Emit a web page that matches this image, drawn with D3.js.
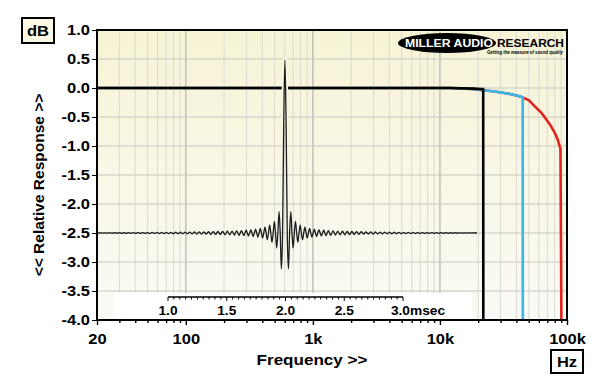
<!DOCTYPE html>
<html>
<head>
<meta charset="utf-8">
<script src="https://cdn.jsdelivr.net/npm/d3@7"></script>
<style>
  body { margin: 0; background: #fff; }
  svg { display: block; font-family: "Liberation Sans", Arial, sans-serif; font-weight: bold; }
</style>
</head>
<body>
<div id="chart"></div>
<script>
// ---- DATA ----

// y axis, dB
var dbTicks = [1.0, 0.5, 0.0, -0.5, -1.0, -1.5, -2.0, -2.5, -3.0, -3.5, -4.0];

// x axis, Hz
var gridFreqs = [20, 30, 40, 50, 60, 70, 80, 90,
                 100, 200, 300, 400, 500, 600, 700, 800, 900,
                 1000, 2000, 3000, 4000, 5000, 6000, 7000, 8000, 9000,
                 10000, 20000, 30000, 40000, 50000, 60000, 70000, 80000, 90000, 100000];
var majorFreqs = [20, 100, 1000, 10000, 100000];
var majorLabels = ["20", "100", "1k", "10k", "100k"];

// response curves [Hz, dB]
var blackCurve = [[20, 0], [12000, 0], [18000, -0.01], [21500, -0.02], [21900, -0.02], [21950, -4.3]];
var cyanCurve = [[20, 0], [12000, 0], [18000, -0.015], [22000, -0.04], [27000, -0.06], [32000, -0.085],
                 [38000, -0.115], [43000, -0.145], [44800, -0.16], [44900, -4.3]];
var redCurve = [[20, 0], [12000, 0], [18000, -0.015], [22000, -0.04], [27000, -0.06], [32000, -0.085],
                [38000, -0.115], [43000, -0.145], [45000, -0.165], [50000, -0.21], [56000, -0.32],
                [63000, -0.43], [69200, -0.55], [75000, -0.66], [80400, -0.78], [84500, -0.89],
                [87000, -0.98], [88800, -1.05], [90500, -4.3]];

// impulse inset, time in msec
var timeTicks = [1.0, 1.5, 2.0, 2.5, 3.0];
var timeLabels = ["1.0", "1.5", "2.0", "2.5", "3.0"];
var timeUnit = "msec";
var impulseBase = -2.5;          // dB position of the impulse baseline
var impulseCentre = 1.995;       // msec
var impulseLobe = 0.02;          // msec between ringing lobes
var impulseSpan = [0.40, 3.63];  // msec, where the trace starts and ends
var impulseMain = [2.98, 1.9];   // peak height and shoulder (half a lobe out)
// ringing lobes going outward from the peak (the trace is symmetric)
var ringLobes = [-0.62, 0.37, -0.26, 0.20, -0.16, 0.135, -0.115, 0.10, -0.088, 0.079,
                 -0.071, 0.065, -0.060, 0.055, -0.051, 0.048, -0.045, 0.042, -0.040, 0.038,
                 -0.036, 0.034, -0.032, 0.031, -0.030, 0.028, -0.027, 0.026, -0.025, 0.024,
                 -0.023, 0.022, -0.021, 0.021, -0.020, 0.019, -0.018, 0.018, -0.017, 0.016,
                 -0.016, 0.015, -0.015, 0.014, -0.014, 0.013, -0.013, 0.012, -0.012, 0.011,
                 -0.011, 0.010, -0.010, 0.010, -0.009, 0.009, -0.009, 0.008, -0.008, 0.008,
                 -0.007, 0.007, -0.007, 0.006, -0.006, 0.006, -0.005, 0.005, -0.005, 0.005,
                 -0.004, 0.004, -0.004, 0.003, -0.003, 0.003, -0.003, 0.002];

// ---- LAYOUT ----
var width = 600, height = 389,
    plot = {left: 97, top: 30, right: 567, bottom: 320},
    stretch = 1.1;

var svg = d3.select("#chart").append("svg")
            .attr("width", width)
            .attr("height", height);

var x = d3.scaleLog().domain([20, 100000]).range([plot.left, plot.right]);
var y = d3.scaleLinear().domain([-4, 1]).range([plot.bottom, plot.top]);
var tx = d3.scaleLinear().domain([1, 3]).range([168, 403]);

var defs = svg.append("defs");
var grad = defs.append("linearGradient").attr("id", "bg")
    .attr("x1", 0).attr("y1", 0).attr("x2", 0).attr("y2", 1);
grad.append("stop").attr("offset", "0%").attr("stop-color", "#f7f3d5");
grad.append("stop").attr("offset", "100%").attr("stop-color", "#fafaf6");
defs.append("clipPath").attr("id", "plotClip").append("rect")
    .attr("x", plot.left).attr("y", plot.top)
    .attr("width", plot.right - plot.left).attr("height", plot.bottom - plot.top);

// plot background
svg.append("rect")
    .attr("x", plot.left).attr("y", plot.top)
    .attr("width", plot.right - plot.left).attr("height", plot.bottom - plot.top)
    .attr("fill", "url(#bg)");

// grid
var grid = svg.append("g");
grid.selectAll("line.v")
    .data(gridFreqs.filter(function(f){ return f > 20 && f < 100000; }))
    .enter().append("line")
        .attr("x1", function(f){ return x(f); })
        .attr("x2", function(f){ return x(f); })
        .attr("y1", plot.top).attr("y2", plot.bottom)
        .attr("stroke", function(f){ return majorFreqs.indexOf(f) >= 0 ? "#bdbcb6" : "#dddbd0"; })
        .attr("stroke-width", function(f){ return majorFreqs.indexOf(f) >= 0 ? 1.4 : 1; });
grid.selectAll("line.h")
    .data(dbTicks.filter(function(d){ return d < 1 && d > -4; }))
    .enter().append("line")
        .attr("x1", plot.left).attr("x2", plot.right)
        .attr("y1", function(d){ return y(d); })
        .attr("y2", function(d){ return y(d); })
        .attr("stroke", "#c9c7bf")
        .attr("stroke-width", 1);

// white panel behind the time ruler
svg.append("rect")
    .attr("x", 115).attr("y", 293).attr("width", 357).attr("height", plot.bottom - 293)
    .attr("fill", "#ffffff");

// response curves
var line = d3.line()
    .x(function(d){ return x(d[0]); })
    .y(function(d){ return y(d[1]); });

var curves = svg.append("g").attr("clip-path", "url(#plotClip)");
[[redCurve, "#e3241b"], [cyanCurve, "#35b8ea"], [blackCurve, "#000000"]].forEach(function(c){
    curves.append("path")
        .datum(c[0])
        .attr("d", line)
        .attr("fill", "none")
        .attr("stroke", c[1])
        .attr("stroke-width", 2.6)
        .attr("stroke-linejoin", "round");
});

// impulse trace
var imp = [[impulseSpan[0], 0]];
for (var k = ringLobes.length; k >= 1; k--) {
    imp.push([impulseCentre - (k + 0.5) * impulseLobe, ringLobes[k - 1]]);
    imp.push([impulseCentre - k * impulseLobe, 0]);
}
imp.push([impulseCentre - impulseLobe / 2, impulseMain[1]]);
imp.push([impulseCentre, impulseMain[0]]);
imp.push([impulseCentre + impulseLobe / 2, impulseMain[1]]);
for (var k = 1; k <= ringLobes.length; k++) {
    imp.push([impulseCentre + k * impulseLobe, 0]);
    imp.push([impulseCentre + (k + 0.5) * impulseLobe, ringLobes[k - 1]]);
}
imp.push([impulseSpan[1], 0]);

var impLine = d3.line()
    .x(function(d){ return tx(d[0]); })
    .y(function(d){ return y(impulseBase + d[1]); })
    .curve(d3.curveMonotoneX);

// light halo round the main lobe, where it crosses the 0dB trace
var mainLobe = imp.filter(function(d){ return Math.abs(d[0] - impulseCentre) <= impulseLobe; });
svg.append("path")
    .datum(mainLobe)
    .attr("d", impLine)
    .attr("fill", "none")
    .attr("stroke", "#f8f5e0")
    .attr("stroke-width", 5);
svg.append("path")
    .datum(imp)
    .attr("d", impLine)
    .attr("fill", "none")
    .attr("stroke", "#1c1c1c")
    .attr("stroke-width", 1.3);

// time ruler
var ruler = svg.append("g");
ruler.append("line")
    .attr("x1", tx(1)).attr("x2", tx(3))
    .attr("y1", 297).attr("y2", 297)
    .attr("stroke", "#000").attr("stroke-width", 1.6);
ruler.selectAll("line.t")
    .data(d3.range(0, 41))
    .enter().append("line")
        .attr("x1", function(i){ return tx(1 + i * 0.05); })
        .attr("x2", function(i){ return tx(1 + i * 0.05); })
        .attr("y1", 297)
        .attr("y2", function(i){ return i % 10 === 0 ? 301 : 299.5; })
        .attr("stroke", "#000").attr("stroke-width", 1);
ruler.selectAll("text")
    .data(timeTicks)
    .enter().append("text")
        .attr("transform", function(t){ return "translate(" + tx(t) + ",315) scale(" + stretch + ",1)"; })
        .attr("text-anchor", function(t, i){ return i === timeTicks.length - 1 ? "start" : "middle"; })
        .attr("font-size", 12.5)
        .attr("dx", function(t, i){ return i === timeTicks.length - 1 ? -11 : 0; })
        .text(function(t, i){ return timeLabels[i] + (i === timeTicks.length - 1 ? timeUnit : ""); });

// frame
svg.append("rect")
    .attr("x", plot.left).attr("y", plot.top)
    .attr("width", plot.right - plot.left).attr("height", plot.bottom - plot.top)
    .attr("fill", "none").attr("stroke", "#000").attr("stroke-width", 2);

// y axis
var yAxis = d3.axisLeft(y)
    .tickValues(dbTicks)
    .tickFormat(function(d){ return d.toFixed(1); })
    .tickSize(5)
    .tickPadding(2);
var gy = svg.append("g")
    .attr("transform", "translate(" + plot.left + ",0)")
    .call(yAxis);
gy.select(".domain").remove();
gy.selectAll("text")
    .attr("font-size", 15).attr("font-family", null).attr("fill", "#000")
    .attr("transform", "scale(" + stretch + ",1)")
    .attr("x", -7 / stretch);
gy.selectAll("line").attr("stroke", "#000");

// x axis
var xAxis = d3.axisBottom(x)
    .tickValues(gridFreqs)
    .tickFormat(function(f){ var i = majorFreqs.indexOf(f); return i >= 0 ? majorLabels[i] : ""; })
    .tickSize(3)
    .tickPadding(10);
var gx = svg.append("g")
    .attr("transform", "translate(0," + plot.bottom + ")")
    .call(xAxis);
gx.select(".domain").remove();
gx.selectAll("line")
    .attr("stroke", "#000")
    .attr("stroke-width", 1.4)
    .attr("y2", function(f){ return majorFreqs.indexOf(f) >= 0 ? 5 : 3; });
gx.selectAll("text")
    .attr("font-size", 15).attr("font-family", null).attr("fill", "#000")
    .attr("transform", "scale(" + stretch + ",1)");

// axis titles
svg.append("text")
    .attr("transform", "translate(" + 312 + ",365) scale(" + stretch + ",1)")
    .attr("text-anchor", "middle")
    .attr("font-size", 15.5)
    .text("Frequency >>");
svg.append("text")
    .attr("transform", "translate(44,185) rotate(-90)")
    .attr("text-anchor", "middle")
    .attr("font-size", 15.5)
    .text("<< Relative Response >>");

// unit boxes
svg.append("rect").attr("x", 22).attr("y", 18).attr("width", 32).attr("height", 25)
    .attr("fill", "#fbf8e6").attr("stroke", "#000").attr("stroke-width", 2);
svg.append("text")
    .attr("transform", "translate(38,36) scale(" + stretch + ",1)")
    .attr("text-anchor", "middle").attr("font-size", 15).text("dB");
svg.append("rect").attr("x", 551).attr("y", 350).attr("width", 32).attr("height", 23)
    .attr("fill", "#fff").attr("stroke", "#000").attr("stroke-width", 2);
svg.append("text")
    .attr("transform", "translate(567,367) scale(" + stretch + ",1)")
    .attr("text-anchor", "middle").attr("font-size", 15).text("Hz");

// logo
var logo = svg.append("g");
logo.append("ellipse")
    .attr("cx", 447).attr("cy", 43).attr("rx", 49).attr("ry", 10)
    .attr("fill", "#000");
logo.append("text")
    .attr("x", 405).attr("y", 47)
    .attr("font-size", 11).attr("font-weight", 900)
    .attr("fill", "#fff")
    .attr("textLength", 88).attr("lengthAdjust", "spacingAndGlyphs")
    .text("MILLER AUDIO");
logo.append("text")
    .attr("x", 497).attr("y", 47)
    .attr("font-size", 11).attr("font-weight", 900)
    .attr("fill", "#000")
    .attr("textLength", 67).attr("lengthAdjust", "spacingAndGlyphs")
    .text("RESEARCH");
logo.append("text")
    .attr("x", 487).attr("y", 54)
    .attr("font-size", 5).attr("font-style", "italic")
    .attr("fill", "#000")
    .attr("textLength", 76).attr("lengthAdjust", "spacingAndGlyphs")
    .text("Getting the measure of sound quality");
</script>
</body>
</html>
